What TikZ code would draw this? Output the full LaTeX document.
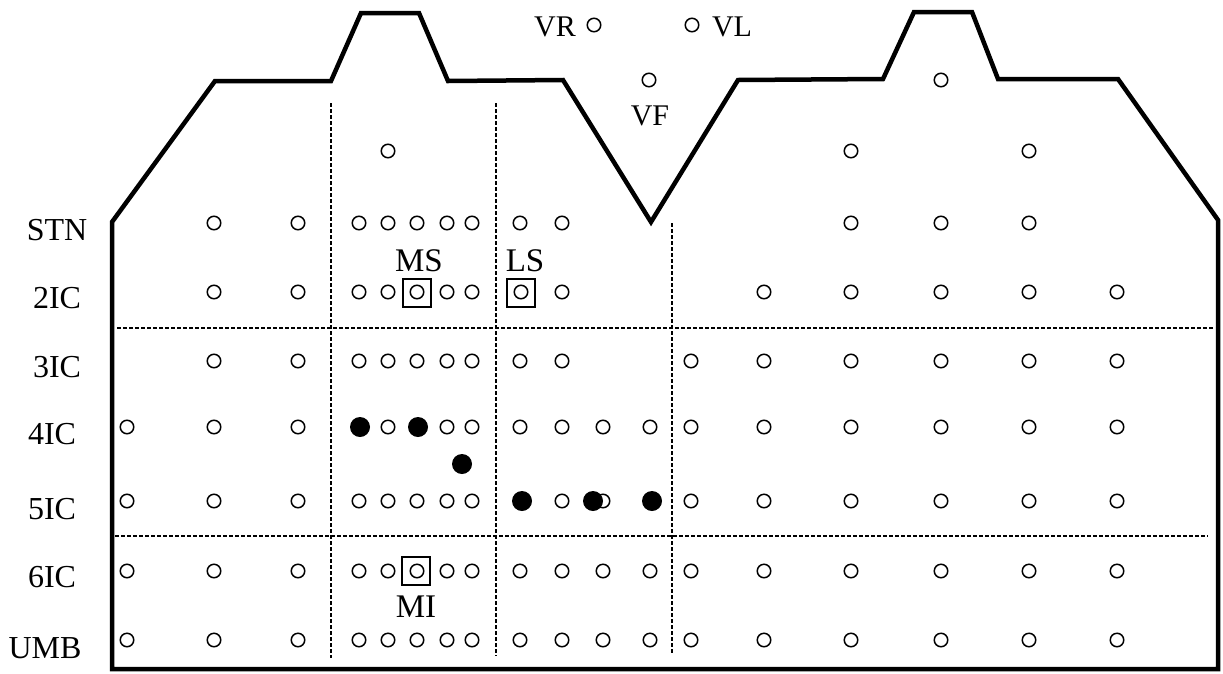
\documentclass[tikz,border=0pt]{standalone}
\usepackage{fontspec}
\setmainfont{Liberation Serif}
\begin{document}
\begin{tikzpicture}[x=1pt,y=-1pt,
  oc/.style={circle,draw,line width=1.5pt,minimum size=13.5pt,inner sep=0pt},
  fc/.style={circle,fill=black,minimum size=20pt,inner sep=0pt},
  markbox/.style={rectangle,draw,line width=1.2pt,minimum size=28pt,inner sep=0pt},
  rowlab/.style={anchor=base,inner sep=0pt,font=\fontsize{32}{36}\selectfont},
  taglab/.style={anchor=base,inner sep=0pt,font=\fontsize{33}{36}\selectfont},
  vlab/.style={anchor=base,inner sep=0pt,font=\fontsize{30}{34}\selectfont},
  outline/.style={line width=4.5pt,line join=miter},
  divider/.style={line width=1.5pt,dash pattern=on 3.5pt off 2.5pt}]
\useasboundingbox (0,0) rectangle (1223,673);
% outline of the chest
\draw[outline] (112,669) -- (112,222) -- (215,81) -- (331,81) -- (361,13) -- (419,13)
  -- (448,81) -- (563,80) -- (651,222) -- (738,80) -- (883,79) -- (914,12) -- (972,12)
  -- (998,79) -- (1118,79) -- (1218,220) -- (1218,669) -- cycle;
% dividers
\draw[divider] (117,328) -- (1214,328);
\draw[divider] (115,536) -- (1208,536);
\draw[divider] (331,103) -- (331,658);
\draw[divider] (496,103) -- (496,656);
\draw[divider] (672,223) -- (672,654);
% row labels
\node[rowlab] (lSTN) at (57,240) {STN};
\node[rowlab] (l2IC) at (57,308) {2IC};
\node[rowlab] (l3IC) at (57,377) {3IC};
\node[rowlab] (l4IC) at (52,444) {4IC};
\node[rowlab] (l5IC) at (52,519) {5IC};
\node[rowlab] (l6IC) at (52,587) {6IC};
\node[rowlab] (lUMB) at (45,658) {UMB};
% top electrodes
\node[oc] (vr) at (594,25) {};
\node[oc] (vl) at (692,25) {};
\node[vlab] (tVR) at (555,36) {VR};
\node[vlab] (tVL) at (732,36) {VL};
\node[oc] (vf) at (649,80) {};
\node[vlab] (tVF) at (650,125) {VF};
\node[oc] (t1) at (941,80) {};
\foreach \x [count=\i] in {388,851,1029} \node[oc] (u\i) at (\x,151) {};
% STN
\foreach \x [count=\i] in {214,298,359,388,417,447,472,520,562,851,941,1029}
  \node[oc] (s\i) at (\x,223) {};
% 2IC
\foreach \x [count=\i] in {214,298,359,388,417,447,472,521,562,764,851,941,1029,1117}
  \node[oc] (a\i) at (\x,292) {};
\node[markbox] (boxMS) at (417,293) {};
\node[markbox] (boxLS) at (521,293) {};
\node[taglab] (tMS) at (419,271) {MS};
\node[taglab] (tLS) at (525,271) {LS};
% 3IC
\foreach \x [count=\i] in {214,298,359,388,417,447,472,520,562,691,764,851,941,1029,1117}
  \node[oc] (b\i) at (\x,361) {};
% 4IC
\foreach \x [count=\i] in {127,214,298,388,447,472,520,562,603,650,691,764,851,941,1029,1117}
  \node[oc] (c\i) at (\x,427) {};
\node[fc] (cf1) at (360,427) {};
\node[fc] (cf2) at (418,427) {};
\node[fc] (xf) at (462,464) {};
% 5IC
\foreach \x [count=\i] in {127,214,298,359,388,417,447,472,562,603,691,764,851,941,1029,1117}
  \node[oc] (d\i) at (\x,501) {};
\node[fc] (df1) at (522,501) {};
\node[fc] (df2) at (593,501) {};
\node[fc] (df3) at (652,501) {};
% 6IC
\foreach \x [count=\i] in {127,214,298,359,388,417,447,472,520,562,603,650,691,764,851,941,1029,1117}
  \node[oc] (e\i) at (\x,571) {};
\node[markbox] (boxMI) at (416,571) {};
\node[taglab] (tMI) at (416,617) {MI};
% UMB
\foreach \x [count=\i] in {127,214,298,359,388,417,447,472,520,562,603,650,691,764,851,941,1029,1117}
  \node[oc] (f\i) at (\x,640) {};
\end{tikzpicture}
\end{document}
